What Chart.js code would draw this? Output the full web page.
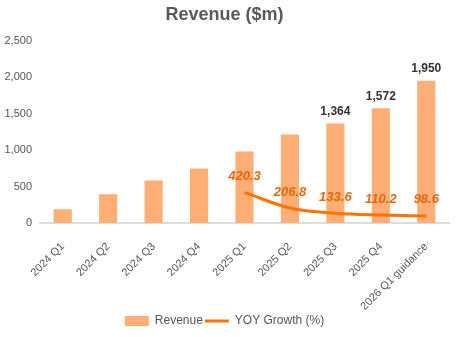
<!DOCTYPE html>
<html>
<head>
<meta charset="utf-8">
<script src="https://cdn.jsdelivr.net/npm/chart.js@4"></script>
<style>
  html, body { margin: 0; padding: 0; background: #fff; }
  #wrap { width: 457px; height: 337px; }
</style>
</head>
<body>
<div id="wrap"><canvas id="chart"></canvas></div>
<script>
const categories = ['2024 Q1', '2024 Q2', '2024 Q3', '2024 Q4', '2025 Q1', '2025 Q2', '2025 Q3', '2025 Q4', '2026 Q1 guidance'];
const revenue = [188, 395, 584, 748, 981, 1213, 1364, 1572, 1950];
const revenueLabels = [null, null, null, null, null, null, '1,364', '1,572', '1,950'];
const yoyGrowth = [null, null, null, null, 420.3, 206.8, 133.6, 110.2, 98.6];
const yTicks = [0, 500, 1000, 1500, 2000, 2500];

const font = '"Liberation Sans", Arial, Helvetica, sans-serif';

// labels above bars and line points
const valueLabels = {
    id: 'valueLabels',
    afterDatasetsDraw(chart) {
        const ctx = chart.ctx;
        ctx.save();
        ctx.textAlign = 'center';
        ctx.textBaseline = 'middle';

        const bars = chart.getDatasetMeta(0).data;
        ctx.font = 'bold 12px ' + font;
        ctx.fillStyle = '#333333';
        bars.forEach((bar, i) => {
            if (revenueLabels[i]) ctx.fillText(revenueLabels[i], bar.x, bar.y - 12);
        });

        const points = chart.getDatasetMeta(1).data;
        ctx.font = 'italic bold 13px ' + font;
        ctx.fillStyle = '#E4670E';
        points.forEach((pt, i) => {
            if (yoyGrowth[i] !== null) ctx.fillText(yoyGrowth[i].toFixed(1), pt.x, pt.y - 16);
        });
        ctx.restore();
    }
};

new Chart(document.getElementById('chart'), {
    data: {
        labels: categories,
        datasets: [{
            type: 'bar',
            label: 'Revenue',
            data: revenue,
            backgroundColor: '#FFAE76',
            barPercentage: 0.4,
            categoryPercentage: 1,
            pointStyle: 'rect',
            order: 2
        }, {
            type: 'line',
            label: 'YOY Growth (%)',
            data: yoyGrowth,
            borderColor: '#FF7300',
            backgroundColor: '#FF7300',
            borderWidth: 3,
            pointRadius: 0,
            cubicInterpolationMode: 'monotone',
            pointStyle: 'line',
            order: 1
        }]
    },
    options: {
        responsive: true,
        maintainAspectRatio: false,
        animation: false,
        layout: { padding: { left: 0, right: 8, top: 0, bottom: 0 } },
        plugins: {
            title: {
                display: true,
                text: 'Revenue ($m)',
                color: '#595959',
                font: { family: font, size: 18, weight: 'bold' },
                padding: { top: 4, bottom: 15 }
            },
            legend: {
                position: 'bottom',
                labels: {
                    usePointStyle: true,
                    pointStyleWidth: 24,
                    boxHeight: 10,
                    color: '#555555',
                    font: { family: font, size: 12 },
                    padding: 2,
                    sort: (a, b) => a.datasetIndex - b.datasetIndex
                }
            },
            tooltip: { enabled: false }
        },
        scales: {
            x: {
                grid: { display: false },
                border: { display: true, color: '#DDDDDD', width: 2 },
                ticks: {
                    color: '#555555',
                    font: { family: font, size: 11 },
                    minRotation: 45,
                    maxRotation: 45,
                    padding: 9
                },
                afterFit: s => { s.paddingLeft = 0; s.height -= 9; }
            },
            y: {
                min: yTicks[0],
                max: yTicks[yTicks.length - 1],
                grid: { display: false, drawTicks: false },
                border: { display: false },
                ticks: {
                    stepSize: 500,
                    color: '#555555',
                    font: { family: font, size: 11 },
                    padding: 8,
                    callback: v => v.toLocaleString('en-US')
                },
                afterFit: s => { s.width = 40; }
            }
        }
    },
    plugins: [valueLabels]
});
</script>
</body>
</html>
